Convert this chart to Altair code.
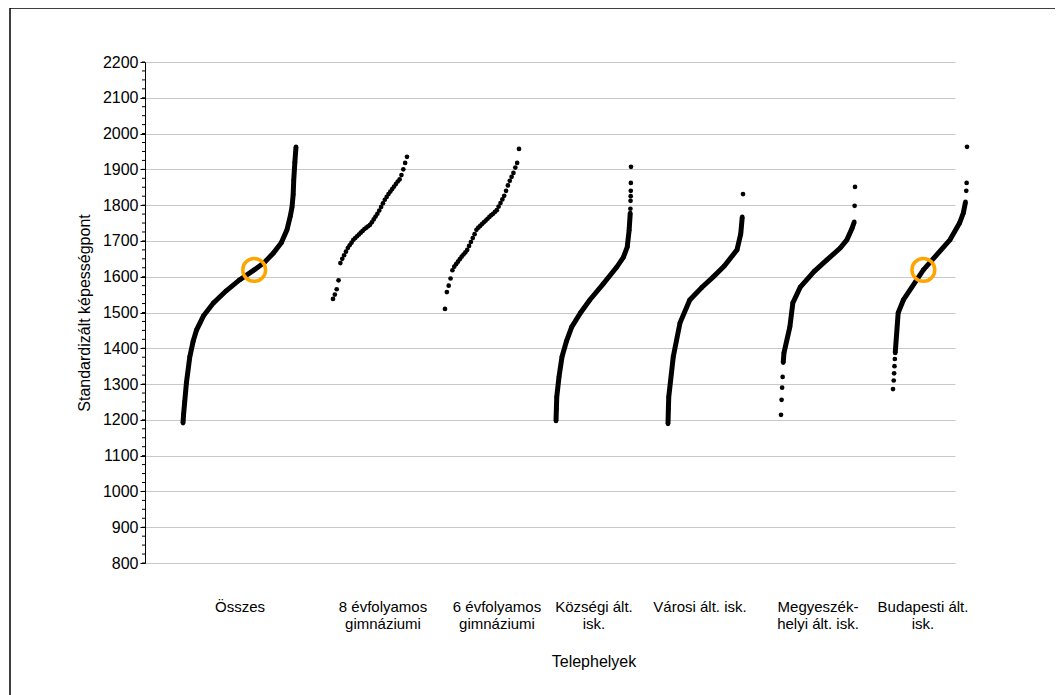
import altair as alt
import pandas as pd

# group labels (two lines each)
groups = ["Összes", "8 évfolyamos gimnáziumi", "6 évfolyamos gimnáziumi", "Községi ált. isk.",
          "Városi ált. isk.", "Megyeszékhelyi ált. isk.", "Budapesti ált. isk."]
label_lines = [["Összes"], ["8 évfolyamos", "gimnáziumi"], ["6 évfolyamos", "gimnáziumi"],
               ["Községi ált.", "isk."], ["Városi ált. isk."], ["Megyeszék-", "helyi ált. isk."],
               ["Budapesti ált.", "isk."]]

# dense part of each distribution: (rank fraction, score)
curve = {
    "Összes": [(0, 1191), (0.005, 1215), (0.015, 1250), (0.03, 1303), (0.06, 1376), (0.09, 1420),
               (0.12, 1451), (0.18, 1490), (0.27, 1527), (0.38, 1560), (0.5, 1591), (0.63, 1619),
               (0.72, 1640), (0.8, 1666), (0.87, 1695), (0.92, 1731), (0.95, 1770), (0.965, 1795),
               (0.975, 1830), (0.98, 1870), (0.99, 1920), (1, 1963)],
    "Községi ált. isk.": [(0, 1197), (0.005, 1230), (0.01, 1264), (0.04, 1320), (0.08, 1376), (0.14, 1420),
                          (0.21, 1460), (0.33, 1500), (0.45, 1535), (0.63, 1580), (0.81, 1627), (0.9, 1655),
                          (0.95, 1683), (0.975, 1730), (0.99, 1778)],
    "Városi ált. isk.": [(0, 1189), (0.005, 1230), (0.01, 1264), (0.07, 1376), (0.16, 1471), (0.29, 1535),
                         (0.45, 1570), (0.6, 1599), (0.75, 1630), (0.92, 1675), (0.97, 1720), (0.99, 1767)],
    "Megyeszékhelyi ált. isk.": [(0.03, 1360), (0.04, 1387), (0.12, 1460), (0.16, 1527), (0.26, 1571),
                                 (0.45, 1615), (0.62, 1647), (0.8, 1680), (0.89, 1703), (0.96, 1735), (0.99, 1753)],
    "Budapesti ált. isk.": [(0.03, 1387), (0.07, 1499), (0.14, 1535), (0.41, 1619), (0.77, 1703),
                            (0.9, 1750), (0.95, 1778), (0.98, 1809)],
}

# isolated points (rank fraction, score)
loose = {
    "Községi ált. isk.": [(0.992, 1790), (0.994, 1812), (0.996, 1825), (0.997, 1840), (0.998, 1862), (1, 1907)],
    "Városi ált. isk.": [(1, 1831)],
    "Megyeszékhelyi ált. isk.": [(0, 1214), (0.008, 1256), (0.015, 1290), (0.022, 1320), (0.995, 1798), (1, 1851)],
    "Budapesti ált. isk.": [(0, 1286), (0.01, 1310), (0.015, 1330), (0.02, 1350), (0.025, 1370),
                            (0.99, 1840), (0.995, 1862), (1, 1963)],
}

# small groups: scores at evenly spaced ranks
gimn8 = [1538, 1550, 1565, 1590, 1638, 1650, 1660, 1670, 1680, 1688, 1695, 1703, 1708, 1713, 1718,
         1723, 1728, 1733, 1737, 1741, 1745, 1752, 1760, 1768, 1776, 1785, 1795, 1805, 1815, 1823,
         1831, 1838, 1845, 1852, 1859, 1866, 1872, 1884, 1900, 1918, 1935]
gimn6 = [1510, 1557, 1575, 1595, 1618, 1628, 1635, 1642, 1649, 1656, 1662, 1668, 1675, 1686, 1697,
         1708, 1719, 1731, 1737, 1742, 1747, 1752, 1757, 1762, 1767, 1772, 1776, 1781, 1786, 1796,
         1806, 1816, 1826, 1840, 1855, 1868, 1879, 1890, 1905, 1918, 1957]
loose["8 évfolyamos gimnáziumi"] = [(i / (len(gimn8) - 1), v) for i, v in enumerate(gimn8)]
loose["6 évfolyamos gimnáziumi"] = [(i / (len(gimn6) - 1), v) for i, v in enumerate(gimn6)]

highlight = [("Összes", 0.63, 1619), ("Budapesti ált. isk.", 0.41, 1619)]

major_ticks = list(range(800, 2201, 100))
minor_ticks = list(range(800, 2201, 25))

# layout: where each group sits on the horizontal axis (px units of an 810-wide plot)
start = [38, 188, 300, 411, 523, 636, 748]
span = [113, 74, 74, 75, 75, 74, 74]
centre = [95, 238, 352, 449, 555, 673, 778]
pos = {g: (s, w) for g, s, w in zip(groups, start, span)}

line_rows, dot_rows = [], []
for g, pts in curve.items():
    s, w = pos[g]
    for f, v in pts:
        line_rows.append({"g": g, "x": s + f * w, "y": v})
for g, pts in loose.items():
    s, w = pos[g]
    for f, v in pts:
        dot_rows.append({"g": g, "x": s + f * w, "y": v})
dot_rows += line_rows
hl = pd.DataFrame([{"x": pos[g][0] + f * pos[g][1], "y": v} for g, f, v in highlight])

label_rows = []
for c, lines in zip(centre, label_lines):
    for k, t in enumerate(lines):
        label_rows.append({"x": c, "py": 545 + k * 17, "t": t})
labels = pd.DataFrame(label_rows)

W, H = 810, 501
xs = alt.Scale(domain=[0, W], nice=False)
ys = alt.Scale(domain=[800, 2200], nice=False)
font = "Liberation Sans"

yaxis = alt.Axis(values=major_ticks, format="d", labelOverlap=False,
                 title="Standardizált képességpont",
                 titleFont=font, titleFontSize=16, titleFontWeight="normal", titleColor="black",
                 titlePadding=10, labelFont=font, labelFontSize=16, labelColor="black",
                 domainColor="black", tickColor="black", tickSize=5, gridColor="#c8c8c8")
X = alt.X("x:Q", scale=xs, axis=None)
Y = alt.Y("y:Q", scale=ys, axis=yaxis)

lines = alt.Chart(pd.DataFrame(line_rows)).mark_line(color="black", strokeWidth=5).encode(
    x=X, y=Y, detail="g:N")
minor = alt.Chart(pd.DataFrame({"y": minor_ticks})).mark_rule(color="black", strokeWidth=1).encode(
    x=alt.value(-3), x2=alt.value(0), y=Y)
dots = alt.Chart(pd.DataFrame(dot_rows)).mark_circle(color="black", size=22, opacity=1).encode(x=X, y=Y)
rings = alt.Chart(hl).mark_point(shape="circle", size=520, color="#FFA500", strokeWidth=3.5,
                                 filled=False, opacity=1).encode(x=X, y=Y)
cat_text = alt.Chart(labels).mark_text(font=font, fontSize=15, baseline="middle", color="black").encode(
    x=X, y=alt.value(0), yOffset=alt.YOffset("py:Q", scale=None), text="t:N")
xtitle = alt.Chart(pd.DataFrame({"t": ["Telephelyek"]})).mark_text(
    font=font, fontSize=16, color="black").encode(x=alt.value(449), y=alt.value(600), text="t:N")
frame = alt.Chart(pd.DataFrame({"a": [0]})).mark_rect(fill=None, stroke="black", strokeWidth=1.5).encode(
    x=alt.value(-135), x2=alt.value(912), y=alt.value(-54), y2=alt.value(650))

chart = alt.layer(frame, lines, minor, dots, rings, cat_text, xtitle).properties(
    width=W, height=H, padding={"left": 137, "top": 54, "right": 100, "bottom": 140},
    autosize=alt.AutoSizeParams(type="none"),
).configure_view(stroke=None)

chart.save("out.html", embed_options={"renderer": "svg", "actions": False})
